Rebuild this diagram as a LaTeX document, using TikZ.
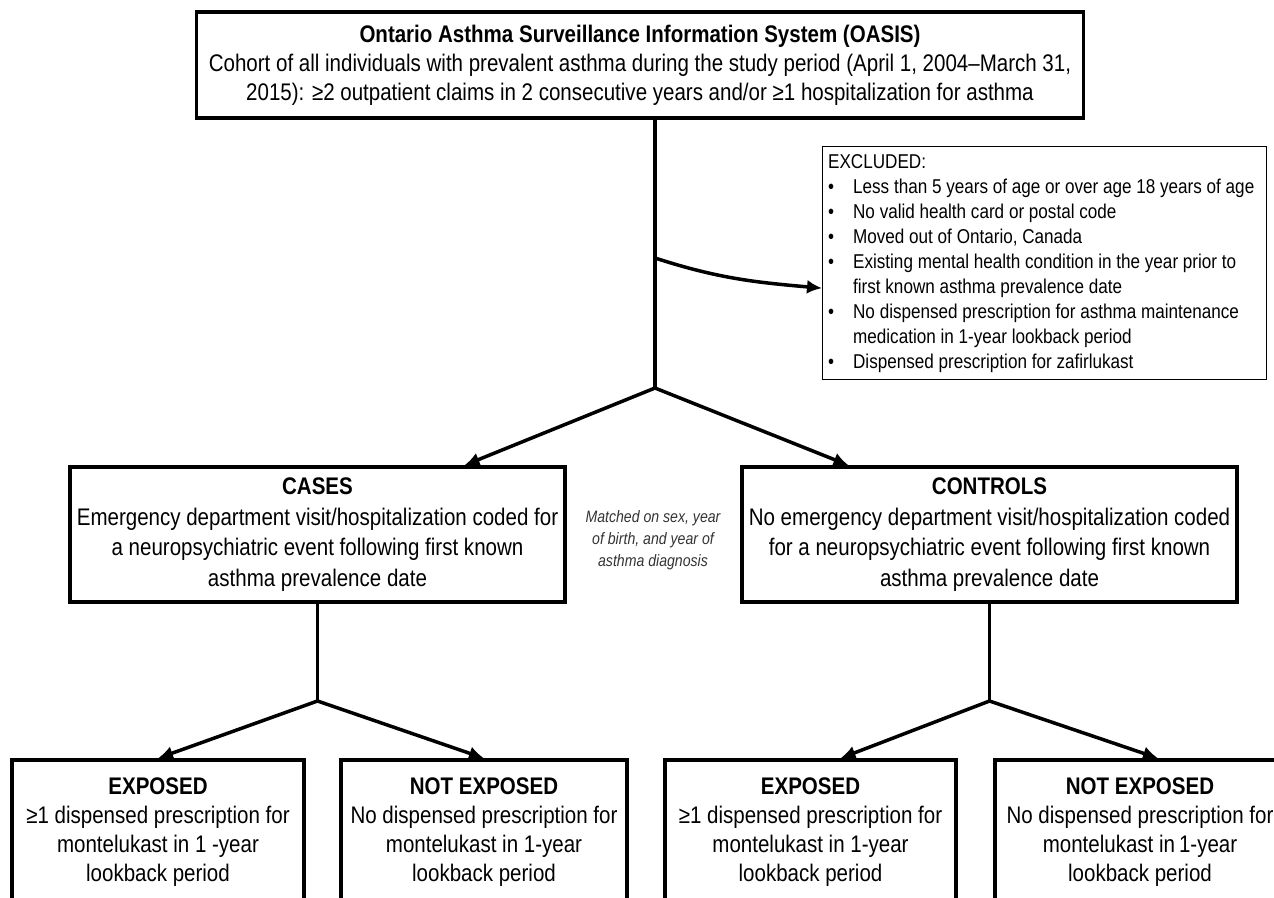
\documentclass[tikz,border=0pt]{standalone}
\usepackage{fontspec}
\setmainfont{Liberation Sans}[FakeStretch=0.855]
\usetikzlibrary{arrows.meta}

\begin{document}
\begin{tikzpicture}[x=1pt,y=-1pt,
  flowbox/.style={draw,line width=3.5pt,align=center,inner sep=2pt,font=\fontsize{24}{29}\selectfont},
  exclbox/.style={draw,line width=1.3pt,inner sep=4pt,font=\fontsize{20}{25}\selectfont},
  note/.style={align=center,text=black!80,font=\itshape\fontsize{16.5}{22}\selectfont},
  link/.style={line width=3.5pt},
  arr/.style={line width=3.5pt,-{Latex[length=15pt,width=14pt]}}]
\useasboundingbox (0,0) rectangle (1274,897);
% cohort and exclusions
\node[flowbox,minimum width=887pt,minimum height=106pt] (oasis) at (640,65)
  {\textbf{Ontario Asthma Surveillance Information System (OASIS)}\\
   Cohort of all individuals with prevalent asthma during the study period (April 1, 2004–March 31,\\
   2015): ≥2 outpatient claims in 2 consecutive years and/or ≥1 hospitalization for asthma};
\node[exclbox,anchor=north west,minimum width=444pt,minimum height=232pt] (excl) at (822,146)
  {\begin{tabular}{@{}p{25pt}@{}p{408pt}@{}}
   \multicolumn{2}{@{}l}{EXCLUDED:}\\
   • & Less than 5 years of age or over age 18 years of age\\
   • & No valid health card or postal code\\
   • & Moved out of Ontario, Canada\\
   • & Existing mental health condition in the year prior to\\
     & first known asthma prevalence date\\
   • & No dispensed prescription for asthma maintenance\\
     & medication in 1-year lookback period\\
   • & Dispensed prescription for zafirlukast
   \end{tabular}};
\coordinate (split) at (655,388);
\coordinate (exc) at (655,258);
\draw[link] (oasis.south -| split) -- (split);
\draw[arr] (exc) to[out=-18,in=175] ([yshift=-25pt]excl.west);
% cases and controls
\node[flowbox,font=\fontsize{24}{30.5}\selectfont,minimum width=495pt,minimum height=135pt] (cases) at (317.5,534.5)
  {\textbf{CASES}\\Emergency department visit/hospitalization coded for\\
   a neuropsychiatric event following first known\\asthma prevalence date};
\node[flowbox,font=\fontsize{24}{30.5}\selectfont,minimum width=495pt,minimum height=135pt] (controls) at (989.5,534.5)
  {\textbf{CONTROLS}\\No emergency department visit/hospitalization coded\\
   for a neuropsychiatric event following first known\\asthma prevalence date};
\node[note] (match) at (653,540) {Matched on sex, year\\of birth, and year of\\asthma diagnosis};
\draw[arr] (split) -- ([xshift=147pt]cases.north);
\draw[arr] (split) -- ([xshift=-141pt]controls.north);
% exposure groups
\node[flowbox,minimum width=292pt,minimum height=145pt] (expL) at (158,832.5)
  {\textbf{EXPOSED}\\≥1 dispensed prescription for\\montelukast in 1 -year\\lookback period};
\node[flowbox,minimum width=286pt,minimum height=145pt] (nexL) at (484,832.5)
  {\textbf{NOT EXPOSED}\\No dispensed prescription for\\montelukast in 1-year\\lookback period};
\node[flowbox,minimum width=291pt,minimum height=145pt] (expR) at (810.5,832.5)
  {\textbf{EXPOSED}\\≥1 dispensed prescription for\\montelukast in 1-year\\lookback period};
\node[flowbox,minimum width=290pt,minimum height=145pt] (nexR) at (1140,832.5)
  {\textbf{NOT EXPOSED}\\No dispensed prescription for\\montelukast in\,1-year\\lookback period};
\coordinate (jl) at (317.5,701);
\coordinate (jr) at (989.5,701);
\draw[link] (cases.south) -- (jl);
\draw[link] (controls.south) -- (jr);
\draw[arr] (jl) -- (expL.north);
\draw[arr] (jl) -- (nexL.north);
\draw[arr] (jr) -- ([xshift=30pt]expR.north);
\draw[arr] (jr) -- ([xshift=18pt]nexR.north);
\end{tikzpicture}
\end{document}
